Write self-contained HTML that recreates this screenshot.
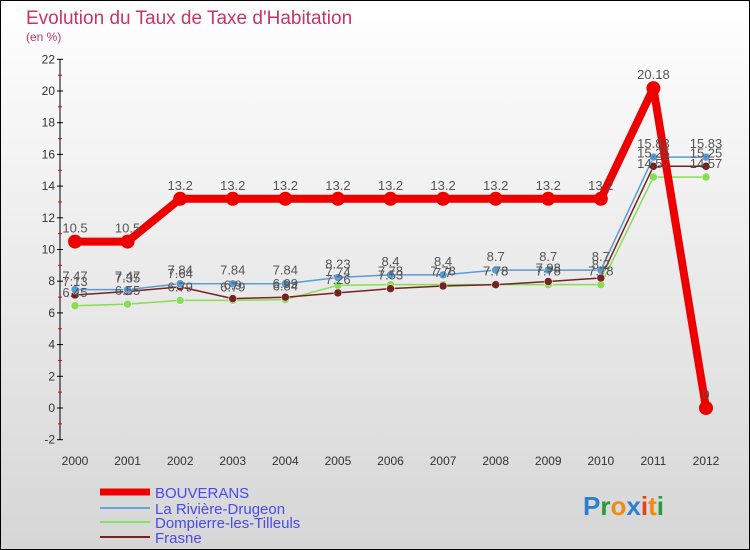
<!DOCTYPE html>
<html><head><meta charset="utf-8"><style>
body{margin:0}svg{display:block}
text{font-family:"Liberation Sans",sans-serif}
</style></head><body>
<svg id="c" width="750" height="550" xmlns="http://www.w3.org/2000/svg">
<defs><linearGradient id="bg" x1="0" y1="0" x2="0" y2="1"><stop offset="0" stop-color="#ffffff"/><stop offset="1" stop-color="#d6d6d6"/></linearGradient></defs>
<rect x="0.5" y="0.5" width="749" height="549" fill="url(#bg)" stroke="#000"/>
<text x="26" y="24" font-size="19" fill="#c8336a">Evolution du Taux de Taxe d'Habitation</text>
<text x="26" y="41" font-size="12" fill="#c8336a">(en %)</text>
<g id="axes"></g><g id="series"></g><g id="labels"></g>
<g font-size="15">
<line x1="100" y1="492" x2="150" y2="492" stroke="#ee0000" stroke-width="7"/>
<text x="155" y="498" fill="#4a4aee">BOUVERANS</text>
<line x1="100" y1="508" x2="150" y2="508" stroke="#6aa3d8" stroke-width="2"/>
<text x="155" y="514" fill="#4a4aee">La Rivière-Drugeon</text>
<line x1="100" y1="522" x2="150" y2="522" stroke="#88dd66" stroke-width="2"/>
<text x="155" y="528" fill="#4a4aee">Dompierre-les-Tilleuls</text>
<line x1="100" y1="537" x2="150" y2="537" stroke="#772222" stroke-width="2"/>
<text x="155" y="543" fill="#4a4aee">Frasne</text>
</g>
<g font-size="26" font-weight="bold">
<text x="583" y="515"><tspan fill="#2a7fd0">P</tspan><tspan fill="#2a9a3a">r</tspan><tspan fill="#f08a10">o</tspan><tspan fill="#2a7fd0">x</tspan><tspan fill="#e84010">i</tspan><tspan fill="#f08a10">t</tspan><tspan fill="#2a9a3a">i</tspan></text>
</g>
</svg>
<script>
const years=["2000","2001","2002","2003","2004","2005","2006","2007","2008","2009","2010","2011","2012"];
const yTicks=[-2,0,2,4,6,8,10,12,14,16,18,20,22];
const bouverans=[10.5,10.5,13.2,13.2,13.2,13.2,13.2,13.2,13.2,13.2,13.2,20.18,0];
const riviere=[7.47,7.47,7.84,7.84,7.84,8.23,8.4,8.4,8.7,8.7,8.7,15.83,15.83];
const dompierre=[6.45,6.55,6.79,6.79,6.84,7.74,7.78,7.78,7.78,7.78,7.78,14.57,14.57];
const frasne=[7.13,7.35,7.64,6.9,6.99,7.26,7.53,7.7,7.78,7.98,8.2,15.25,15.25];
const NS="http://www.w3.org/2000/svg";
const X=i=>75+i*(706-75)/(years.length-1);
const Y=v=>408-v*(408-91)/20;
function mk(tag,attrs,parent,txt){const e=document.createElementNS(NS,tag);for(const k in attrs)e.setAttribute(k,attrs[k]);if(txt!==undefined)e.textContent=txt;document.getElementById(parent).appendChild(e);return e;}
let ax=mk("line",{x1:60,y1:Y(22),x2:60,y2:Y(-2),stroke:"#000"},"axes");


yTicks.forEach(t=>{
  mk("line",{x1:57,y1:Y(t),x2:63,y2:Y(t),stroke:"#000"},"axes");
  if(t<22){mk("line",{x1:58,y1:Y(t+1),x2:62,y2:Y(t+1),stroke:"#e00"},"axes");}
  const l=mk("text",{x:55,y:Y(t)+4,"font-size":12,"text-anchor":"end",fill:"#333"},"axes",String(t));
  
  
});
years.forEach((y,i)=>{
  const l=mk("text",{x:X(i),y:465,"font-size":12,"text-anchor":"middle",fill:"#333"},"axes",y);
  
  
});
function series(vals,color,w,r,name,lab){
  const pts=vals.map((v,i)=>X(i)+","+Y(v)).join(" ");
  const pl=mk("polyline",{points:pts,fill:"none",stroke:color,"stroke-width":w,"stroke-linejoin":"round"},"series");
  
  
  vals.forEach((v,i)=>{
    const c=mk("circle",{cx:X(i),cy:Y(v),r:r,fill:color,stroke:"#fff","stroke-width":w>3?0:0.5},"series");
    
    
    if(lab){const t=mk("text",{x:X(i),y:Y(v)-9,"font-size":13,"text-anchor":"middle",fill:"#555"},"labels",String(v));
    
    }
  });
}
series(dompierre,"#88dd55",1.5,4,"dompierre",true);
series(frasne,"#772222",1.5,4,"frasne",true);
series(riviere,"#5a9ad5",1.5,4,"riviere",true);
series(bouverans,"#ee0000",8,7,"bouverans",true);
</script>
</body></html>
